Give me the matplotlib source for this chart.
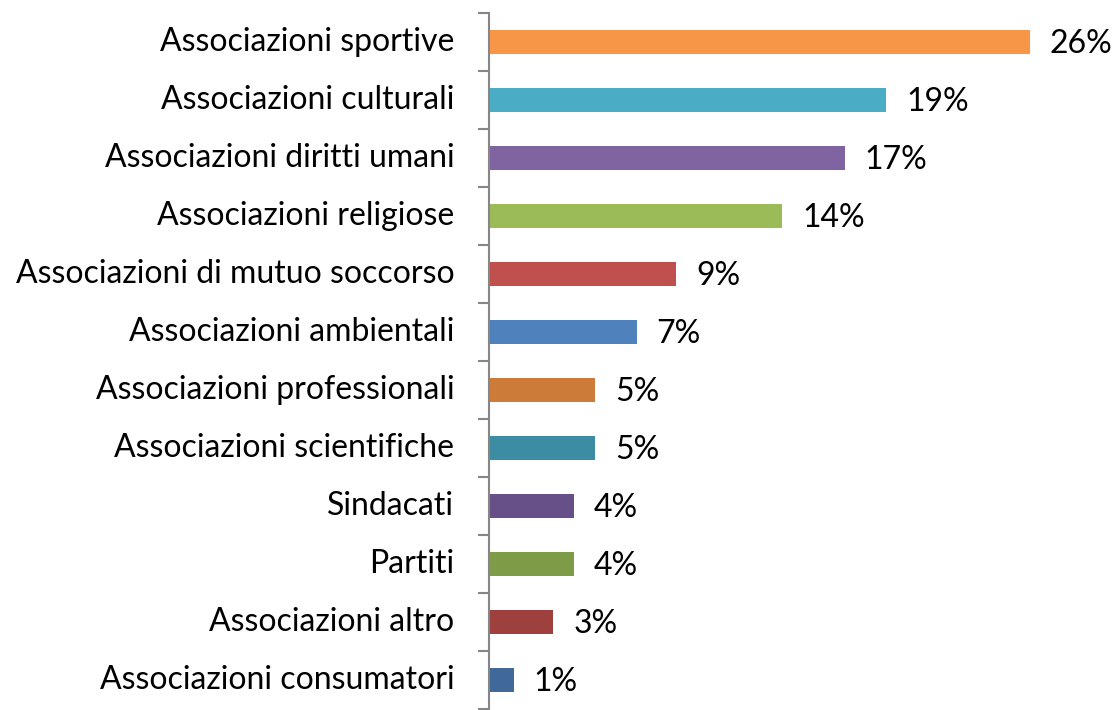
import matplotlib.pyplot as plt

categories = [
    'Associazioni sportive',
    'Associazioni culturali',
    'Associazioni diritti umani',
    'Associazioni religiose',
    'Associazioni di mutuo soccorso',
    'Associazioni ambientali',
    'Associazioni professionali',
    'Associazioni scientifiche',
    'Sindacati',
    'Partiti',
    'Associazioni altro',
    'Associazioni consumatori',
]
values = [26.0, 19.1, 17.1, 14.1, 9.0, 7.1, 5.1, 5.1, 4.1, 4.1, 3.1, 1.2]
value_labels = ['26%', '19%', '17%', '14%', '9%', '7%', '5%', '5%', '4%', '4%', '3%', '1%']
colors = ['#F79646', '#4BACC6', '#8064A2', '#9BBB59', '#C0504D', '#4F81BD',
          '#CC7B39', '#3C8DA3', '#675087', '#7E9B48', '#9E413E', '#40699A']

plt.rcParams['font.family'] = ['Lato', 'DejaVu Sans']

fig = plt.figure(figsize=(11.15, 7.10), dpi=100)
ax = fig.add_axes([489 / 1115, 1 / 710, (1113 - 489) / 1115, 696 / 710])

y = list(range(len(categories)))
ax.barh(y, values, height=0.43, color=colors)
for yi, v, lab in zip(y, values, value_labels):
    ax.text(v + 0.95, yi + 0.04, lab, va='center', ha='left', fontsize=23, color='#000000')

ax.set_xlim(0, 30)
ax.set_ylim(len(categories) - 0.5, -0.5)
ax.set_yticks(y)
ax.set_yticklabels(categories, fontsize=23, va='center')
ax.tick_params(axis='y', which='major', length=0, pad=25)
ax.set_yticks([i + 0.5 for i in range(-1, len(categories))], minor=True)
ax.tick_params(axis='y', which='minor', length=8, width=1.5, color='#868686', direction='out')
ax.set_xticks([])
for side in ['top', 'right', 'bottom']:
    ax.spines[side].set_visible(False)
ax.spines['left'].set_color('#868686')
ax.spines['left'].set_linewidth(1.5)

plt.savefig('out.png')
plt.close()
